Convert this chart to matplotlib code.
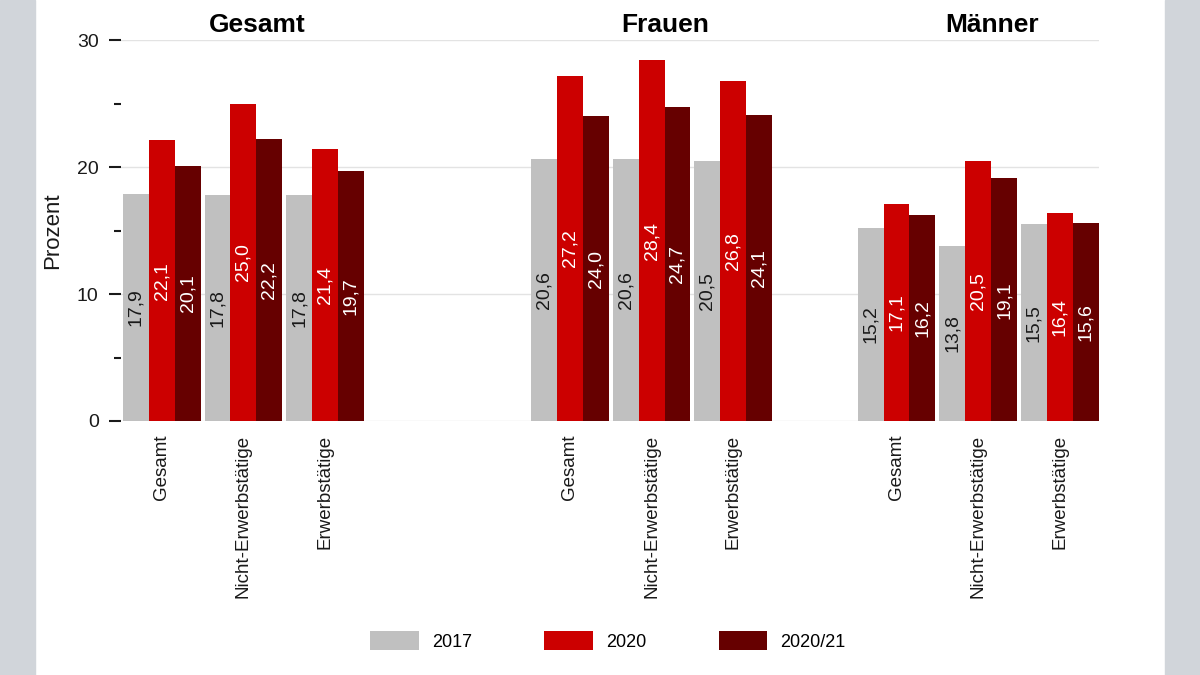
import matplotlib.pyplot as plt
from matplotlib.patches import Rectangle
import numpy as np

plt.rcParams['font.family'] = ['Liberation Sans', 'DejaVu Sans']

# Data
groups = ['Gesamt', 'Frauen', 'Männer']
categories = ['Gesamt', 'Nicht-Erwerbstätige', 'Erwerbstätige']
series = ['2017', '2020', '2020/21']
v2017 = [17.9, 17.8, 17.8, 20.6, 20.6, 20.5, 15.2, 13.8, 15.5]
v2020 = [22.1, 25.0, 21.4, 27.2, 28.4, 26.8, 17.1, 20.5, 16.4]
v2021 = [20.1, 22.2, 19.7, 24.0, 24.7, 24.1, 16.2, 19.1, 15.6]

colors = ['#c0c0c0', '#cc0000', '#660000']
text_colors = ['#1a1a1a', 'white', 'white']

# layout: group starts on the x axis
group_start = [0, 5, 9]
x = np.array([s + i for s in group_start for i in range(len(categories))], dtype=float)
w = 0.317

fig = plt.figure(figsize=(12, 6.75), dpi=100)
fig.patches.append(Rectangle((0, 0), 35 / 1200, 1, transform=fig.transFigure,
                             color='#d1d5da', zorder=-1))
fig.patches.append(Rectangle((1165 / 1200, 0), 35 / 1200, 1, transform=fig.transFigure,
                             color='#d1d5da', zorder=-1))

ax = fig.add_axes([0.1008, 0.3763, 0.8150, 0.5644])

for k, (vals, name) in enumerate(zip([v2017, v2020, v2021], series)):
    pos = x + (k - 1) * w
    ax.bar(pos, vals, width=w, color=colors[k], edgecolor='none', label=name, zorder=2)
    for p, v in zip(pos, vals):
        ax.text(p, v / 2, f'{v:.1f}'.replace('.', ','), rotation=90, ha='center',
                va='center', color=text_colors[k], fontsize=14, zorder=3)

ax.set_xlim(-0.5, 11.48)
ax.set_ylim(0, 30)
ax.set_yticks([0, 10, 20, 30])
ax.set_yticks([5, 15, 25], minor=True)
ax.tick_params(axis='y', which='major', length=9, width=1.5, labelsize=14, pad=7,
               colors='#1a1a1a')
ax.tick_params(axis='y', which='minor', length=5, width=1.5, colors='#1a1a1a')
ax.yaxis.grid(True, color='#e3e3e3', linewidth=1, zorder=0)
ax.set_axisbelow(True)
for s in ax.spines.values():
    s.set_visible(False)

ax.set_xticks(x)
ax.set_xticklabels(categories * 3, rotation=90, fontsize=13.5, color='#1a1a1a')
ax.tick_params(axis='x', length=0, pad=10)

ax.set_ylabel('Prozent', fontsize=16, labelpad=10, color='#1a1a1a')

for g, s in zip(groups, group_start):
    ax.text(s + 1.17, 31.2, g, ha='center', va='center', fontsize=19,
            fontweight='bold', color='black')

ax.legend(loc='center', bbox_to_anchor=(0.498, -0.577), ncol=3, frameon=False,
          fontsize=13, handlelength=2.7, handleheight=1.25, columnspacing=4.0,
          handletextpad=0.72)

fig.savefig('out.png', dpi=100)
